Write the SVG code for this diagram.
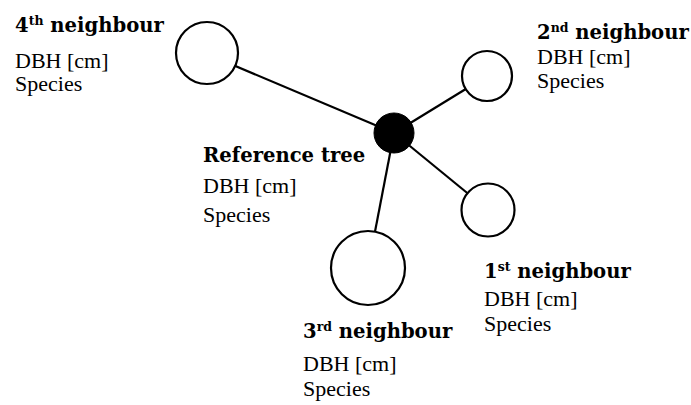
<svg xmlns="http://www.w3.org/2000/svg" width="691" height="405" viewBox="0 0 691 405">
<style>
.edge{stroke:#000;stroke-width:2.2;fill:none}
.tree{fill:#fff;stroke:#000;stroke-width:2.2}
.ref{fill:#000;stroke:#000;stroke-width:1}
.t{font-family:"DejaVu Serif","Liberation Serif",serif;font-weight:bold;font-size:19.6px;fill:#000}
.s{font-size:12.5px}
.l{font-family:"Liberation Serif","Times New Roman",serif;font-size:22px;fill:#000}
</style>
<rect width="691" height="405" fill="#fff"/>
<g id="connectors">
<line class="edge" x1="394" y1="133" x2="207" y2="54"/>
<line class="edge" x1="394" y1="133" x2="487" y2="76"/>
<line class="edge" x1="394" y1="133" x2="488" y2="210"/>
<line class="edge" x1="394" y1="133" x2="368" y2="268"/>
</g>
<g id="ref-tree">
<circle class="ref" cx="394" cy="133" r="20"/>
<text class="t" x="203" y="162">Reference tree</text>
<text class="l" x="203" y="193">DBH [cm]</text>
<text class="l" x="203" y="222">Species</text>
</g>
<g id="neighbour4">
<circle class="tree" cx="207" cy="53" r="31"/>
<text class="t" x="15" y="32">4<tspan class="s" dy="-7">th</tspan><tspan dy="7"> neighbour</tspan></text>
<text class="l" x="15" y="68">DBH [cm]</text>
<text class="l" x="15" y="91">Species</text>
</g>
<g id="neighbour2">
<circle class="tree" cx="487" cy="76" r="25"/>
<text class="t" x="537" y="39">2<tspan class="s" dy="-7">nd</tspan><tspan dy="7"> neighbour</tspan></text>
<text class="l" x="537" y="64">DBH [cm]</text>
<text class="l" x="537" y="88">Species</text>
</g>
<g id="neighbour1">
<circle class="tree" cx="488" cy="210" r="26.5"/>
<text class="t" x="484" y="278">1<tspan class="s" dy="-7">st</tspan><tspan dy="7"> neighbour</tspan></text>
<text class="l" x="484" y="306">DBH [cm]</text>
<text class="l" x="484" y="331">Species</text>
</g>
<g id="neighbour3">
<circle class="tree" cx="368" cy="268" r="37"/>
<text class="t" x="303" y="338">3<tspan class="s" dy="-7">rd</tspan><tspan dy="7"> neighbour</tspan></text>
<text class="l" x="303" y="371">DBH [cm]</text>
<text class="l" x="303" y="396">Species</text>
</g>
</svg>
